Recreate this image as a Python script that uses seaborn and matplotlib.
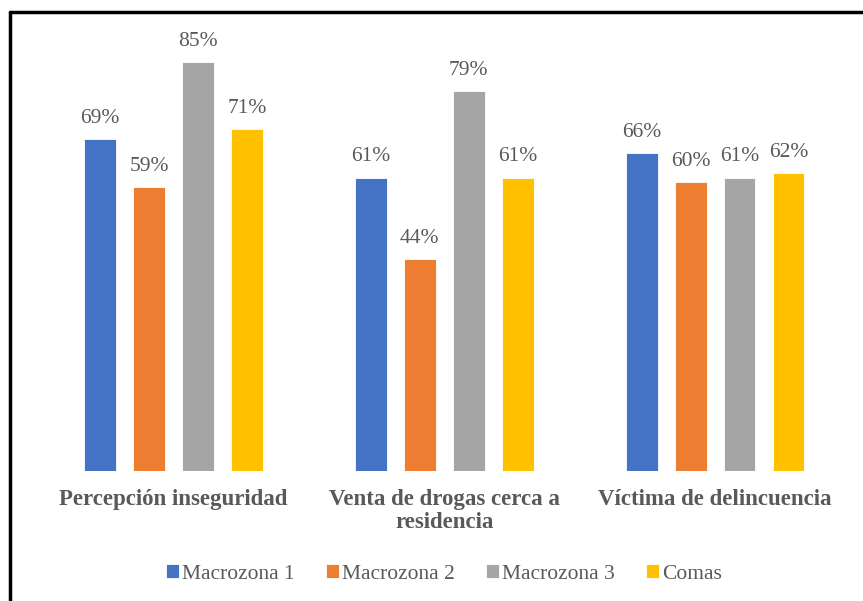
import matplotlib
matplotlib.use("Agg")
import matplotlib.pyplot as plt
from matplotlib.lines import Line2D
import seaborn as sns
import pandas as pd

# Survey indicators by zone (percent of respondents)
categories = ["Percepción inseguridad", "Venta de drogas cerca a\nresidencia", "Víctima de delincuencia"]
zones = ["Macrozona 1", "Macrozona 2", "Macrozona 3", "Comas"]
macrozona_1 = [69, 61, 66]
macrozona_2 = [59, 44, 60]
macrozona_3 = [85, 79, 61]
comas = [71, 61, 62]
colors = ["#4472C4", "#ED7D31", "#A5A5A5", "#FFC000"]

series = [macrozona_1, macrozona_2, macrozona_3, comas]
df = pd.DataFrame(
    [(cat, zone, vals[i]) for zone, vals in zip(zones, series) for i, cat in enumerate(categories)],
    columns=["categoria", "zona", "valor"],
)

sns.set_theme(style="white")
plt.rcParams["font.family"] = ["Liberation Serif", "DejaVu Serif"]
text_color = "#595959"

fig = plt.figure(figsize=(8.63, 6.01), dpi=100)
ax = fig.add_axes([38 / 863, (601 - 471) / 601, (850.5 - 38) / 863, (471 - 38) / 601])

sns.barplot(
    data=df, x="categoria", y="valor", hue="zona",
    order=categories, hue_order=zones, palette=colors,
    width=0.723, gap=0.35, ax=ax, saturation=1, legend=True,
    edgecolor="white", linewidth=0.6,
)

ax.set_xlim(-0.5, 2.5)
ax.set_ylim(0, 90)
for c in ax.containers:
    ax.bar_label(c, fmt="{:.0f}%", padding=8, fontsize=15.5, color=text_color)

ax.set_xlabel("")
ax.set_ylabel("")
ax.set_yticks([])
ax.tick_params(axis="x", length=0, pad=13)
ax.set_xticks(range(len(categories)))
ax.set_xticklabels(categories, fontsize=16.5, fontweight="bold", color=text_color, linespacing=1.1)
for s in ax.spines.values():
    s.set_visible(False)

ax.legend(
    loc="center", bbox_to_anchor=(0.5, (471 - 574) / (471 - 38)), ncol=4, frameon=False,
    fontsize=15.5, handlelength=0.6, handleheight=0.6, handletextpad=0.15,
    columnspacing=1.45, labelcolor=text_color,
)

# outer frame
fig.add_artist(Line2D([10 / 863, 10 / 863], [0, (601 - 12) / 601], color="black", lw=2.5,
                      transform=fig.transFigure))
fig.add_artist(Line2D([10 / 863, 1], [(601 - 12) / 601, (601 - 12) / 601], color="black", lw=2.5,
                      transform=fig.transFigure))

fig.savefig("out.png", dpi=100, facecolor="white")
